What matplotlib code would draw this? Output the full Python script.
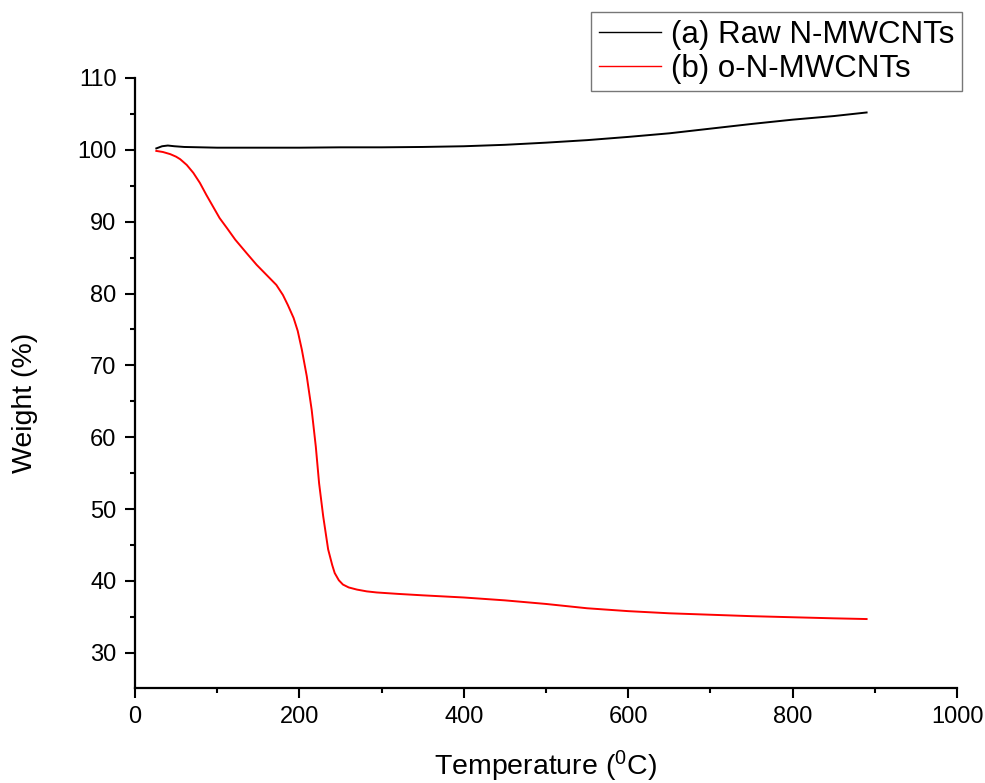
import matplotlib
matplotlib.use("Agg")
import matplotlib.pyplot as plt
from matplotlib.ticker import MultipleLocator

plt.rcParams['font.family'] = ['Liberation Sans', 'DejaVu Sans']
plt.rcParams['mathtext.fontset'] = 'custom'
plt.rcParams['mathtext.rm'] = 'Liberation Sans'
plt.rcParams['mathtext.default'] = 'regular'

# (a) raw N-MWCNTs
raw_temp = [26, 33, 40, 48, 60, 100, 150, 200, 250, 300, 350, 400, 450, 500,
            550, 600, 650, 700, 750, 800, 850, 890]
raw_weight = [100.2, 100.5, 100.6, 100.5, 100.4, 100.3, 100.3, 100.3, 100.35,
              100.35, 100.4, 100.5, 100.7, 101.0, 101.35, 101.8, 102.3, 102.95,
              103.6, 104.2, 104.7, 105.2]

# (b) oxidised N-MWCNTs
ox_temp = [26, 34, 43, 50, 55, 63, 71, 79, 87, 95, 103, 112, 122, 136, 148,
           160, 172, 180, 186, 193, 198, 203, 209, 215, 220, 224, 229, 235,
           240, 243, 248, 253, 260, 270, 282, 294, 320, 350, 400, 450, 500,
           550, 600, 650, 700, 750, 800, 850, 890]
ox_weight = [99.85, 99.7, 99.4, 99.05, 98.7, 97.9, 96.8, 95.4, 93.7, 92.1,
             90.5, 89.1, 87.5, 85.6, 84.0, 82.6, 81.2, 79.8, 78.4, 76.6, 74.8,
             72.2, 68.5, 63.8, 58.7, 53.6, 49.0, 44.4, 42.2, 41.1, 40.1, 39.5,
             39.1, 38.8, 38.55, 38.4, 38.2, 38.0, 37.7, 37.3, 36.8, 36.2, 35.8,
             35.5, 35.3, 35.1, 34.95, 34.8, 34.7]

fig = plt.figure(figsize=(9.85, 7.83), dpi=100)
ax = fig.add_axes([0.137, 0.1213, 0.8346, 0.7791])

ax.plot(raw_temp, raw_weight, color='black', linewidth=1.4, label='(a) Raw N-MWCNTs')
ax.plot(ox_temp, ox_weight, color='red', linewidth=1.4, label='(b) o-N-MWCNTs')

ax.set_xlim(0, 1000)
ax.set_ylim(25.1, 110)
ax.spines['top'].set_visible(False)
ax.spines['right'].set_visible(False)
ax.spines['left'].set_linewidth(1.6)
ax.spines['bottom'].set_linewidth(1.6)

ax.xaxis.set_major_locator(MultipleLocator(200))
ax.xaxis.set_minor_locator(MultipleLocator(100))
ax.set_yticks(range(30, 111, 10))
ax.yaxis.set_minor_locator(MultipleLocator(5))
ax.tick_params(which='major', direction='out', length=7.2, width=1.5,
               labelsize=17, pad=6)
ax.tick_params(which='minor', direction='out', length=3.6, width=1.5)

ax.set_xlabel('Temperature ($^{0}$C)', fontsize=20.5)
ax.xaxis.set_label_coords(0.5, -0.1)
ax.set_ylabel('Weight (%)', fontsize=20.5)
ax.yaxis.set_label_coords(-0.118, 0.467)

leg = ax.legend(loc='upper right', bbox_to_anchor=(0.9766, 0.9847),
                bbox_transform=fig.transFigure, fontsize=22.5, frameon=True,
                fancybox=False, handlelength=2.0, handletextpad=0.3,
                borderpad=0.25, labelspacing=0.12, borderaxespad=0)
leg.get_frame().set_edgecolor('#555555')
leg.get_frame().set_linewidth(1.0)
for line in leg.get_lines():
    line.set_linewidth(1.0)

fig.savefig('out.png', dpi=100)
